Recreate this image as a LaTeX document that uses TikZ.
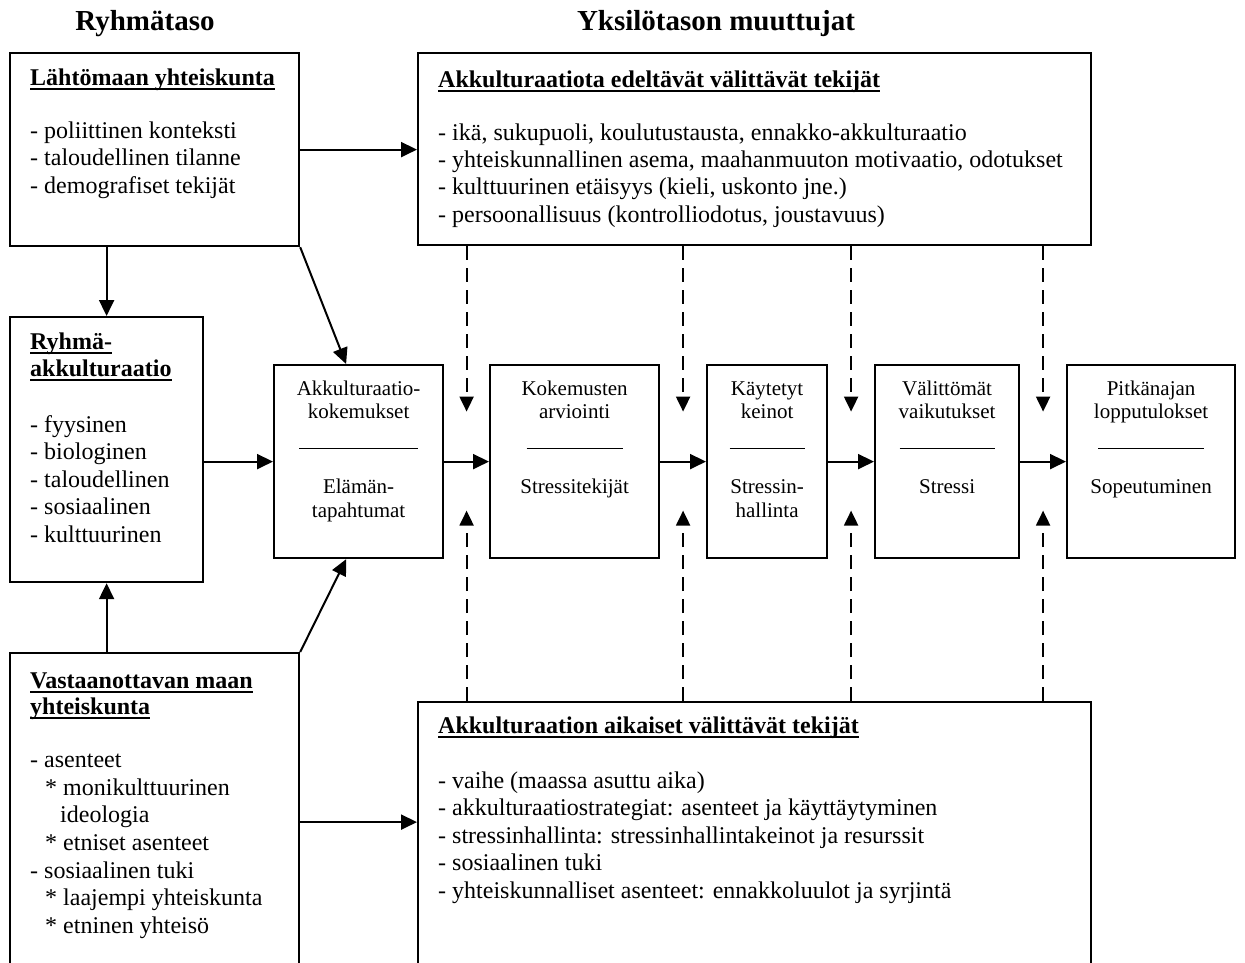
\documentclass[tikz,border=0pt]{standalone}
\usepackage{fontspec}
\setmainfont{Liberation Serif}
\usetikzlibrary{arrows.meta,calc}
\newcommand{\myul}[1]{\setbox0\hbox{#1}\rlap{\rule[-4.5pt]{\wd0}{2pt}}\box0}
\tikzset{
  box/.style={draw, line width=2.2pt, inner sep=0pt, anchor=north west},
  arr/.style={line width=2pt, -{Triangle[length=16pt,width=15pt]}},
  darr/.style={line width=2pt, dash pattern=on 14pt off 8pt, -{Triangle[length=15pt,width=14pt]}},
  rulel/.style={line width=1pt},
  big/.style={anchor=base west, inner sep=0pt, font=\fontsize{24}{27}\selectfont},
  bigb/.style={anchor=base west, inner sep=0pt, font=\fontsize{24}{27}\selectfont\bfseries},
  head/.style={anchor=base, inner sep=0pt, font=\fontsize{29}{33}\selectfont\bfseries},
  small/.style={anchor=base, inner sep=0pt, font=\fontsize{21}{24}\selectfont},
}
\begin{document}
\begin{tikzpicture}[x=1pt,y=-1pt]
\useasboundingbox (0,0) rectangle (1245,962);
\clip (0,0) rectangle (1245,962);
% headings
\node[head] (h1) at (145,30) {Ryhmätaso};
\node[head] (h2) at (716,30) {Yksilötason muuttujat};
% big boxes
\node[box, minimum width=289pt, minimum height=193pt] (L) at (9,52) {};
\node[box, minimum width=673pt, minimum height=192pt] (A) at (417,52) {};
\node[box, minimum width=193pt, minimum height=265pt] (R) at (9,316) {};
\node[box, minimum width=289pt, minimum height=338pt] (V) at (9,652) {};
\node[box, minimum width=673pt, minimum height=330pt] (B) at (417,701) {};
% inner boxes
\node[box, minimum width=169pt, minimum height=193pt] (E) at (273,364) {};
\node[box, minimum width=169pt, minimum height=193pt] (K) at (489,364) {};
\node[box, minimum width=120pt, minimum height=193pt] (KK) at (706,364) {};
\node[box, minimum width=144pt, minimum height=193pt] (VV) at (874,364) {};
\node[box, minimum width=168pt, minimum height=193pt] (P) at (1066,364) {};
% texts of L
\node[bigb] (Lt) at (30,85) {\myul{Lähtömaan yhteiskunta}};
\foreach \t [count=\i] in {{- poliittinen konteksti},{- taloudellinen tilanne},{- demografiset tekijät}}
  \node[big] (L-\i) at (30,{138+27.5*(\i-1)}) {\t};
% texts of A
\node[bigb] (At) at (438,87) {\myul{Akkulturaatiota edeltävät välittävät tekijät}};
\foreach \t [count=\i] in {{- ikä, sukupuoli, koulutustausta, ennakko-akkulturaatio},{- yhteiskunnallinen asema, maahanmuuton motivaatio, odotukset},{- kulttuurinen etäisyys (kieli, uskonto jne.)},{- persoonallisuus (kontrolliodotus, joustavuus)}}
  \node[big] (A-\i) at (438,{140+27.4*(\i-1)}) {\t};
% texts of R
\node[bigb] (Rt1) at (30,349) {\myul{Ryhmä-}};
\node[bigb] (Rt2) at (30,376) {\myul{akkulturaatio}};
\foreach \t [count=\i] in {{- fyysinen},{- biologinen},{- taloudellinen},{- sosiaalinen},{- kulttuurinen}}
  \node[big] (R-\i) at (30,{432+27.5*(\i-1)}) {\t};
% texts of V
\node[bigb] (Vt1) at (30,688) {\myul{Vastaanottavan maan}};
\node[bigb] (Vt2) at (30,714) {\myul{yhteiskunta}};
\node[big] (V-1) at (30,767) {- asenteet};
\node[big] (V-2) at (45,795) {* monikulttuurinen};
\node[big] (V-3) at (60,822) {ideologia};
\node[big] (V-4) at (45,850) {* etniset asenteet};
\node[big] (V-5) at (30,878) {- sosiaalinen tuki};
\node[big] (V-6) at (45,905) {* laajempi yhteiskunta};
\node[big] (V-7) at (45,933) {* etninen yhteisö};
% texts of B
\node[bigb] (Bt) at (438,733) {\myul{Akkulturaation aikaiset välittävät tekijät}};
\foreach \t [count=\i] in {{- vaihe (maassa asuttu aika)},{- akkulturaatiostrategiat: asenteet ja käyttäytyminen},{- stressinhallinta: stressinhallintakeinot ja resurssit},{- sosiaalinen tuki},{- yhteiskunnalliset asenteet: ennakkoluulot ja syrjintä}}
  \node[big] (B-\i) at (438,{788+27.5*(\i-1)}) {\t};
% inner box texts
\node[small] (E-1) at ($(E.north)+(0,31)$) {Akkulturaatio-};
\node[small] (E-2) at ($(E.north)+(0,54.5)$) {kokemukset};
\node[small] (E-3) at ($(E.north)+(0,129)$) {Elämän-};
\node[small] (E-4) at ($(E.north)+(0,153)$) {tapahtumat};
\node[small] (K-1) at ($(K.north)+(0,31)$) {Kokemusten};
\node[small] (K-2) at ($(K.north)+(0,54.5)$) {arviointi};
\node[small] (K-3) at ($(K.north)+(0,129)$) {Stressitekijät};
\node[small] (KK-1) at ($(KK.north)+(0,31)$) {Käytetyt};
\node[small] (KK-2) at ($(KK.north)+(0,54.5)$) {keinot};
\node[small] (KK-3) at ($(KK.north)+(0,129)$) {Stressin-};
\node[small] (KK-4) at ($(KK.north)+(0,153)$) {hallinta};
\node[small] (VV-1) at ($(VV.north)+(0,31)$) {Välittömät};
\node[small] (VV-2) at ($(VV.north)+(0,54.5)$) {vaikutukset};
\node[small] (VV-3) at ($(VV.north)+(0,129)$) {Stressi};
\node[small] (P-1) at ($(P.north)+(0,31)$) {Pitkänajan};
\node[small] (P-2) at ($(P.north)+(0,54.5)$) {lopputulokset};
\node[small] (P-3) at ($(P.north)+(0,129)$) {Sopeutuminen};
% separator rules
\draw[rulel] ($(E.center)+(-59.5,-13)$) -- ($(E.center)+(59.5,-13)$);
\draw[rulel] ($(K.center)+(-48,-13)$) -- ($(K.center)+(48,-13)$);
\draw[rulel] ($(KK.center)+(-37.5,-13)$) -- ($(KK.center)+(37.5,-13)$);
\draw[rulel] ($(VV.center)+(-47.5,-13)$) -- ($(VV.center)+(47.5,-13)$);
\draw[rulel] ($(P.center)+(-53,-13)$) -- ($(P.center)+(53,-13)$);
% arrows
\draw[arr] (R.north |- L.south) -- (R.north);
\draw[arr] (R.south |- V.north) -- (R.south);
\draw[arr] (L.east) -- (A.west |- L.east);
\draw[arr] (L.south east) -- ([xshift=-12.5pt]E.north);
\draw[arr] (V.north east) -- ([xshift=-12.5pt]E.south);
\draw[arr] (R.east |- E.west) -- (E.west);
\draw[arr] (V.east) -- (B.west |- V.east);
\draw[arr] (E.east) -- (K.west);
\draw[arr] (K.east) -- (KK.west);
\draw[arr] (KK.east) -- (VV.west);
\draw[arr] (VV.east) -- (P.west);
% dashed arrows
\coordinate (m1) at ($(E.east)!0.5!(K.west)$);
\coordinate (m2) at ($(K.east)!0.5!(KK.west)$);
\coordinate (m3) at ($(KK.east)!0.5!(VV.west)$);
\coordinate (m4) at ($(VV.east)!0.5!(P.west)$);
\foreach \m in {m1,m2,m3,m4}{
  \coordinate (\m t) at ($(\m)+(0,-50)$);
  \coordinate (\m b) at ($(\m)+(0,49)$);
  \draw[darr] (\m t |- A.south) -- (\m t);
  \draw[darr] (\m b |- B.north) -- (\m b);
}
\end{tikzpicture}
\end{document}
